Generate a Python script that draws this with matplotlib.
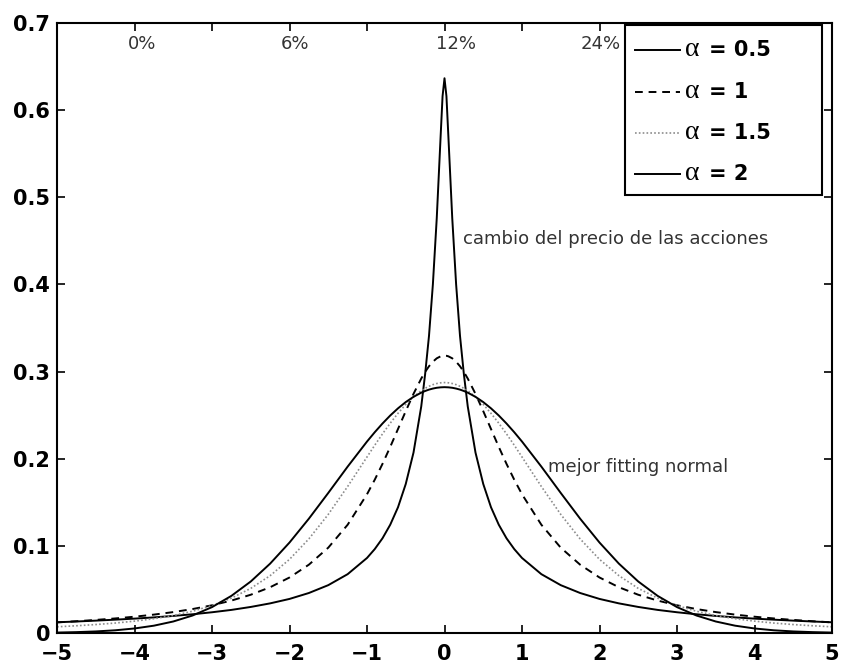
import matplotlib
matplotlib.use("Agg")
import matplotlib.pyplot as plt
from matplotlib.patches import Rectangle
from matplotlib.lines import Line2D

plt.rcParams['font.family'] = ['DejaVu Sans']

# x positions of the read-off samples
x = [-5.0, -4.75, -4.5, -4.25, -4.0, -3.75, -3.5, -3.25, -3.0, -2.75, -2.5, -2.25,
     -2.0, -1.75, -1.5, -1.25, -1.0, -0.9, -0.8, -0.7, -0.6, -0.5, -0.4, -0.3,
     -0.25, -0.2, -0.15, -0.1, -0.05, -0.025, 0.0, 0.025, 0.05, 0.1, 0.15, 0.2,
     0.25, 0.3, 0.4, 0.5, 0.6, 0.7, 0.8, 0.9, 1.0, 1.25, 1.5, 1.75, 2.0, 2.25,
     2.5, 2.75, 3.0, 3.25, 3.5, 3.75, 4.0, 4.25, 4.5, 4.75, 5.0]

alpha_05 = [0.0123, 0.0132, 0.0142, 0.0153, 0.0165, 0.0179, 0.0196, 0.0215, 0.0238, 0.0265,
            0.0299, 0.0340, 0.0391, 0.0459, 0.0549, 0.0675, 0.0861, 0.0963, 0.1087, 0.1243,
            0.1443, 0.171, 0.207, 0.260, 0.297, 0.341, 0.400, 0.476, 0.570, 0.616,
            0.6366,
            0.616, 0.570, 0.476, 0.400, 0.341, 0.297, 0.260, 0.207, 0.171, 0.1443,
            0.1243, 0.1087, 0.0963, 0.0861, 0.0675, 0.0549, 0.0459, 0.0391, 0.0340, 0.0299,
            0.0265, 0.0238, 0.0215, 0.0196, 0.0179, 0.0165, 0.0153, 0.0142, 0.0132, 0.0123]

alpha_1 = [0.0122, 0.0135, 0.0150, 0.0167, 0.0187, 0.0211, 0.0240, 0.0275, 0.0318, 0.0372,
           0.0439, 0.0525, 0.0637, 0.0784, 0.0979, 0.1242, 0.1592, 0.1759, 0.1941, 0.2136,
           0.2341, 0.2546, 0.2744, 0.2920, 0.2996, 0.3061, 0.3113, 0.3152, 0.3175, 0.3181,
           0.3183,
           0.3181, 0.3175, 0.3152, 0.3113, 0.3061, 0.2996, 0.2920, 0.2744, 0.2546, 0.2341,
           0.2136, 0.1941, 0.1759, 0.1592, 0.1242, 0.0979, 0.0784, 0.0637, 0.0525, 0.0439,
           0.0372, 0.0318, 0.0275, 0.0240, 0.0211, 0.0187, 0.0167, 0.0150, 0.0135, 0.0122]

alpha_15 = [0.0071, 0.0083, 0.0097, 0.0114, 0.0136, 0.0164, 0.0201, 0.0250, 0.0315, 0.0400,
            0.0512, 0.0658, 0.0845, 0.1080, 0.1361, 0.1681, 0.2020, 0.2155, 0.2285, 0.2408,
            0.2521, 0.2623, 0.2710, 0.2780, 0.2808, 0.2831, 0.2850, 0.2863, 0.2871, 0.2873,
            0.2874,
            0.2873, 0.2871, 0.2863, 0.2850, 0.2831, 0.2808, 0.2780, 0.2710, 0.2623, 0.2521,
            0.2408, 0.2285, 0.2155, 0.2020, 0.1681, 0.1361, 0.1080, 0.0845, 0.0658, 0.0512,
            0.0400, 0.0315, 0.0250, 0.0201, 0.0164, 0.0136, 0.0114, 0.0097, 0.0083, 0.0071]

alpha_2 = [0.0005, 0.0010, 0.0018, 0.0031, 0.0052, 0.0084, 0.0132, 0.0201, 0.0297, 0.0426,
           0.0591, 0.0796, 0.1038, 0.1312, 0.1607, 0.1909, 0.2197, 0.2304, 0.2404, 0.2496,
           0.2578, 0.2650, 0.2710, 0.2758, 0.2777, 0.2793, 0.2805, 0.2814, 0.2819, 0.2820,
           0.2821,
           0.2820, 0.2819, 0.2814, 0.2805, 0.2793, 0.2777, 0.2758, 0.2710, 0.2650, 0.2578,
           0.2496, 0.2404, 0.2304, 0.2197, 0.1909, 0.1607, 0.1312, 0.1038, 0.0796, 0.0591,
           0.0426, 0.0297, 0.0201, 0.0132, 0.0084, 0.0052, 0.0031, 0.0018, 0.0010, 0.0005]

alpha_values = ['0.5', '1', '1.5', '2']

x_ticks = [-5, -4, -3, -2, -1, 0, 1, 2, 3, 4, 5]
x_tick_labels = ['\u22125', '\u22124', '\u22123', '\u22122', '\u22121', '0', '1', '2', '3', '4', '5']
y_ticks = [0, 0.1, 0.2, 0.3, 0.4, 0.5, 0.6, 0.7]
y_tick_labels = ['0', '0.1', '0.2', '0.3', '0.4', '0.5', '0.6', '0.7']

pct_labels = ['0%', '6%', '12%', '24%']
pct_x = [-3.90, -1.93, 0.15, 2.01]

styles = [dict(color='black', lw=1.4, ls='-'),
          dict(color='black', lw=1.4, ls=(0, (4, 3))),
          dict(color='0.55', lw=1.2, ls=(0, (1, 1.3))),
          dict(color='black', lw=1.4, ls='-')]

W, H = 842, 669
AX_L, AX_R, AX_T, AX_B = 57, 832, 23, 633

fig = plt.figure(figsize=(W / 100, H / 100), dpi=100)
ax = fig.add_axes([AX_L / W, (H - AX_B) / H, (AX_R - AX_L) / W, (AX_B - AX_T) / H])

series = [alpha_05, alpha_1, alpha_15, alpha_2]
for ys, st in zip(series, styles):
    ax.plot(x, ys, **st)

ax.set_xlim(-5, 5)
ax.set_ylim(0, 0.7)
ax.set_xticks(x_ticks)
ax.set_xticklabels(x_tick_labels)
ax.set_yticks(y_ticks)
ax.set_yticklabels(y_tick_labels)
ax.tick_params(direction='in', length=6, width=1.2, top=True, right=True,
               labelsize=15)
ax.tick_params(axis='x', pad=8)
ax.tick_params(axis='y', pad=5)
for lab in ax.get_xticklabels() + ax.get_yticklabels():
    lab.set_fontweight('bold')
for sp in ax.spines.values():
    sp.set_linewidth(1.5)

for t, xp in zip(pct_labels, pct_x):
    ax.text(xp, 0.676, t, ha='center', va='center', fontsize=13, color='#333333')

ax.text(0.24, 0.452, 'cambio del precio de las acciones', ha='left', va='center',
        fontsize=13, color='#333333')
ax.text(1.34, 0.191, 'mejor fitting normal', ha='left', va='center',
        fontsize=13, color='#333333')

# legend box drawn in pixel-derived axes fractions
def fx(px):
    return (px - AX_L) / (AX_R - AX_L)

def fy(py):
    return (AX_B - py) / (AX_B - AX_T)

box = Rectangle((fx(625), fy(195)), fx(822) - fx(625), fy(25) - fy(195),
                transform=ax.transAxes, facecolor='white', edgecolor='black',
                linewidth=1.5, zorder=5)
ax.add_patch(box)
row_y = [50, 92, 133, 174]
for ry, st, av in zip(row_y, styles, alpha_values):
    ax.add_line(Line2D([fx(635), fx(680)], [fy(ry), fy(ry)], transform=ax.transAxes,
                       zorder=6, **st))
    ax.text(fx(685), fy(ry), '\u03b1', transform=ax.transAxes, ha='left', va='center',
            fontsize=20, family=['Liberation Serif'], zorder=6)
    ax.text(fx(709), fy(ry), '= ' + av, transform=ax.transAxes, ha='left', va='center',
            fontsize=15, fontweight='bold', zorder=6)

fig.savefig('out.png', dpi=100)
